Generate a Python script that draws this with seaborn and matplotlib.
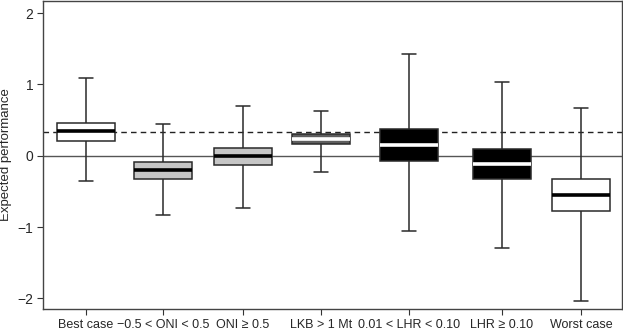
import pandas as pd
import matplotlib
matplotlib.use("Agg")
import matplotlib.pyplot as plt
import seaborn as sns

# --- data (five-number summaries) ---
categories = ['Best case', '\u22120.5 < ONI < 0.5', 'ONI \u2265 0.5', 'LKB > 1 Mt',
              '0.01 < LHR < 0.10', 'LHR \u2265 0.10', 'Worst case']
whisker_low = [-0.35, -0.83, -0.74, -0.23, -1.06, -1.30, -2.04]
q1 = [0.21, -0.32, -0.13, 0.16, -0.07, -0.32, -0.77]
median = [0.34, -0.20, -0.01, 0.23, 0.15, -0.11, -0.55]
q3 = [0.46, -0.09, 0.11, 0.30, 0.37, 0.10, -0.33]
whisker_high = [1.09, 0.44, 0.70, 0.63, 1.43, 1.03, 0.67]
reference_value = 0.33

# --- layout / style ---
box_x = [86, 163, 243, 321, 409, 502, 581]
fill_colors = ['white', '#c6c6c6', '#c6c6c6', '#5e5e5e', 'black', 'black', 'white']
median_colors = ['black', 'black', 'black', 'white', 'white', 'white', 'black']

rows = []
for i, cat in enumerate(categories):
    for v in (whisker_low[i], q1[i], median[i], q3[i], whisker_high[i]):
        rows.append({'category': cat, 'x': box_x[i], 'value': v})
df = pd.DataFrame(rows)

sns.set_style('white')
plt.rcParams['font.family'] = ['Liberation Sans', 'DejaVu Sans']

fig = plt.figure(figsize=(6.23, 3.31), dpi=100)
ax = fig.add_axes([43 / 623, 22 / 331, 579 / 623, 308 / 331])

ax.axhline(0, color='#555555', lw=1.0, zorder=0)
ax.axhline(reference_value, color='#222222', lw=1.0, ls=(0, (4, 3)), zorder=0)

sns.boxplot(data=df, x='x', y='value', hue='category', hue_order=categories,
            palette=dict(zip(categories, fill_colors)), native_scale=True,
            whis=(0, 100), width=0.75, gap=0, legend=False,
            linecolor='#2a2a2a', linewidth=1.1, ax=ax)

for i, cont in enumerate(ax.containers):
    for m in cont.medians:
        m.set_color(median_colors[i])
        m.set_linewidth(2.6)
    for c in cont.caps:
        xd = c.get_xdata()
        mid = (xd[0] + xd[1]) / 2
        c.set_xdata([mid - 7, mid + 7])

ax.set_xlim(43, 622)
ax.set_ylim(-2.15, 2.17)
ax.set_xticks(box_x)
ax.set_xticklabels(categories, fontsize=9)
ax.set_yticks([-2, -1, 0, 1, 2])
ax.set_yticklabels(['\u22122', '\u22121', '0', '1', '2'], fontsize=10)
ax.set_xlabel('')
ax.set_ylabel('Expected performance', fontsize=9.5, labelpad=4)
ax.tick_params(axis='both', direction='out', length=4, width=0.8, color='#333333',
               bottom=True, left=True, pad=3)
for s in ax.spines.values():
    s.set_visible(True)
    s.set_color('#444444')
    s.set_linewidth(1.0)

fig.savefig('out.png', dpi=100)
